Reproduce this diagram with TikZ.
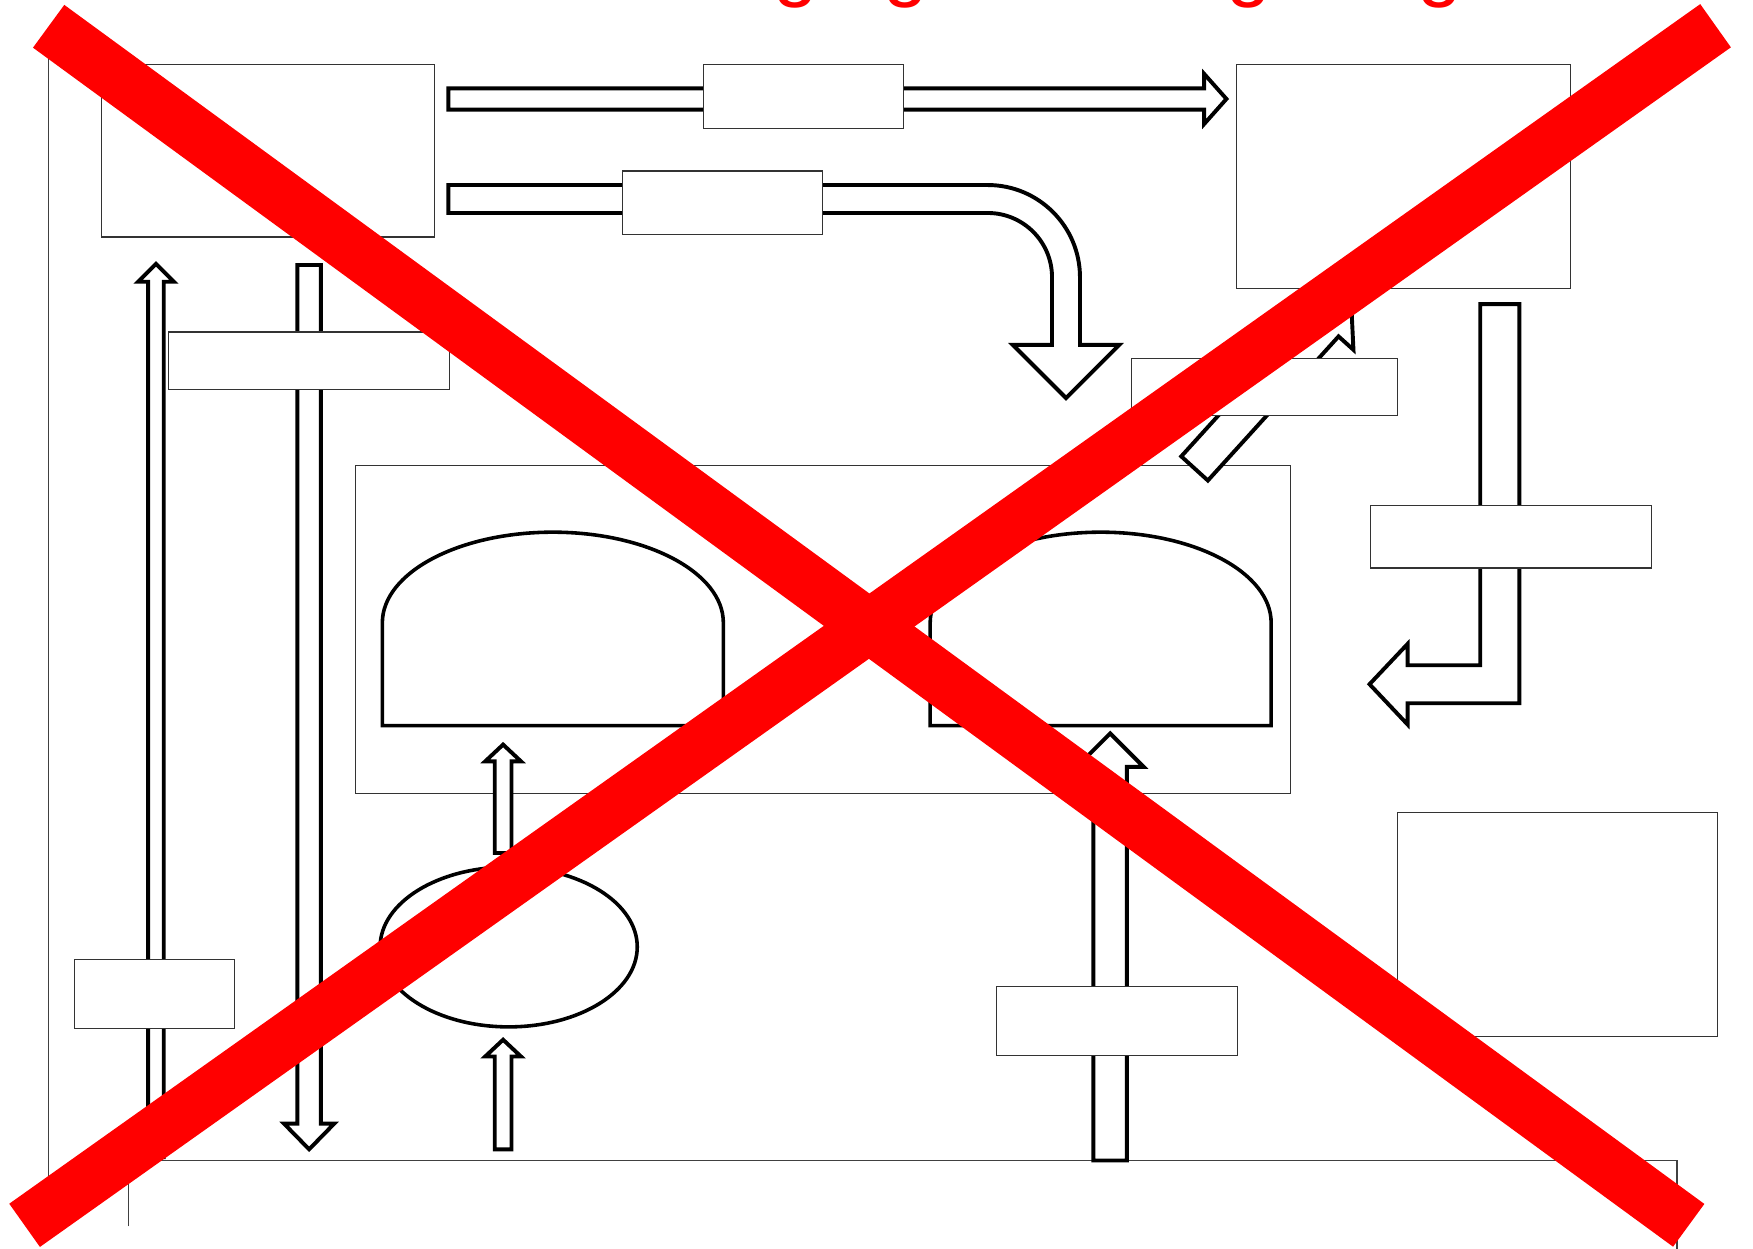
\documentclass[tikz,border=0pt]{standalone}
\usepackage{fontspec}
\usetikzlibrary{shapes.geometric}
\newfontfamily\redfont{Liberation Sans}
\begin{document}
\begin{tikzpicture}[x=1pt,y=-1pt,
  box/.style={draw=black!80, line width=1pt, fill=white, rectangle, inner sep=0pt, outer sep=0pt},
  blockarrow/.style={draw=black, line width=3.5pt, fill=white, line join=miter},
  outline/.style={draw=black, line width=3.2pt, fill=white},
  frameline/.style={draw=black!75, line width=1pt},
  cross/.style={draw=red, line width=47.4pt},
  redglyph/.style={text=red, inner sep=0pt, anchor=base, font=\redfont\fontsize{72}{80}\selectfont}]
\useasboundingbox (0,0) rectangle (1568,1117);
% frame lines
\coordinate (fl1) at (43,40);
\coordinate (fl2) at (43,1062);
\draw[frameline] (fl1) -- (fl2);
\coordinate (fb1) at (115,1097);
\coordinate (fb2) at (115,1038);
\coordinate (fb3) at (1500,1038);
\coordinate (fb4) at (1500,1117);
\draw[frameline] (fb1) -- (fb2) -- (fb3) -- (fb4);
% middle rectangle
\node[box, minimum width=836, minimum height=294] (mid) at (736,563) {};
% domes
\draw[outline] (342,649) -- (342,557) .. controls (342,512.26) and (410.27,476) .. (494.5,476)
  .. controls (578.73,476) and (647,512.26) .. (647,557) -- (647,649) -- cycle;
\draw[outline] (832,649) -- (832,557) .. controls (832,512.26) and (900.27,476) .. (984.5,476)
  .. controls (1068.73,476) and (1137,512.26) .. (1137,557) -- (1137,649) -- cycle;
% ellipse
\node[draw=black, line width=3.2pt, fill=white, ellipse, minimum width=230, minimum height=143, inner sep=0pt] (ell) at (455,847) {};
% top arrow 1
\draw[blockarrow] (401,79) -- (1077,79) -- (1077,66) -- (1097,88.5) -- (1077,111) -- (1077,98) -- (401,98) -- cycle;
% top arrow 2 (bent)
\draw[blockarrow] (401,165.5) -- (883.5,165.5) .. controls (929.06,165.5) and (966,202.44) .. (966,248)
  -- (966,308.5) -- (1001,308.5) -- (953.5,356) -- (906,308.5) -- (941,308.5) -- (941,248)
  .. controls (941,216.24) and (915.26,190.5) .. (883.5,190.5) -- (401,190.5) -- cycle;
% left up arrow
\draw[blockarrow] (132.5,1035) -- (132.5,252) -- (123.5,252) -- (139.5,236) -- (155.5,252) -- (146.5,252) -- (146.5,1035) -- cycle;
% left down arrow
\draw[blockarrow] (266,237) -- (287,237) -- (287,1005) -- (299,1005) -- (276.5,1028) -- (254,1005) -- (266,1005) -- cycle;
% right L arrow
\draw[blockarrow] (1324,272) -- (1359,272) -- (1359,629) -- (1259,629) -- (1259,648) -- (1225,612) -- (1259,576) -- (1259,595) -- (1324,595) -- cycle;
% big up arrow
\draw[blockarrow] (978,1038) -- (978,686) -- (963,686) -- (993,656) -- (1023,686) -- (1008,686) -- (1008,1038) -- cycle;
% small up arrows
\draw[blockarrow] (442.5,763) -- (442.5,681) -- (434,681) -- (450,666) -- (466,681) -- (457.5,681) -- (457.5,763) -- cycle;
\draw[blockarrow] (442.5,1028) -- (442.5,945) -- (434,945) -- (450,930) -- (466,945) -- (457.5,945) -- (457.5,1028) -- cycle;
% diagonal arrow
\draw[blockarrow] (1056.6,408.2) -- (1173.5,279.3) -- (1160.2,267.3) -- (1208.3,264.9) -- (1210.6,312.9) -- (1197.3,300.9) -- (1080.4,429.8) -- cycle;
% boxes
\node[box, minimum width=298, minimum height=154] (A) at (240,135) {};
\node[box, minimum width=179, minimum height=57] (B) at (718.5,86.5) {};
\node[box, minimum width=179, minimum height=57] (C) at (646.5,181.5) {};
\node[box, minimum width=299, minimum height=200] (D) at (1255.5,158) {};
\node[box, minimum width=251, minimum height=51] (E) at (276.5,322.5) {};
\node[box, minimum width=238, minimum height=51] (F) at (1131,346.5) {};
\node[box, minimum width=251, minimum height=56] (G) at (1351.5,480) {};
\node[box, minimum width=143, minimum height=62] (H) at (138.5,889) {};
\node[box, minimum width=216, minimum height=62] (I) at (999,913) {};
\node[box, minimum width=286, minimum height=200] (J) at (1393,827) {};
% red cross
\coordinate (x1a) at (43.5,23.5);
\coordinate (x1b) at (1510.5,1096);
\coordinate (x2a) at (22,1096);
\coordinate (x2b) at (1534.5,23);
\draw[cross] (x1a) -- (x1b);
\draw[cross] (x2a) -- (x2b);
% red title (cut off at top, as in the reference)
\node[redglyph] (g1) at (712,-8) {g};
\node[redglyph] (g2) at (810,-8) {g};
\node[redglyph] (g3) at (1117,-8) {g};
\node[redglyph] (g4) at (1288,-8) {g};
\end{tikzpicture}
\end{document}
